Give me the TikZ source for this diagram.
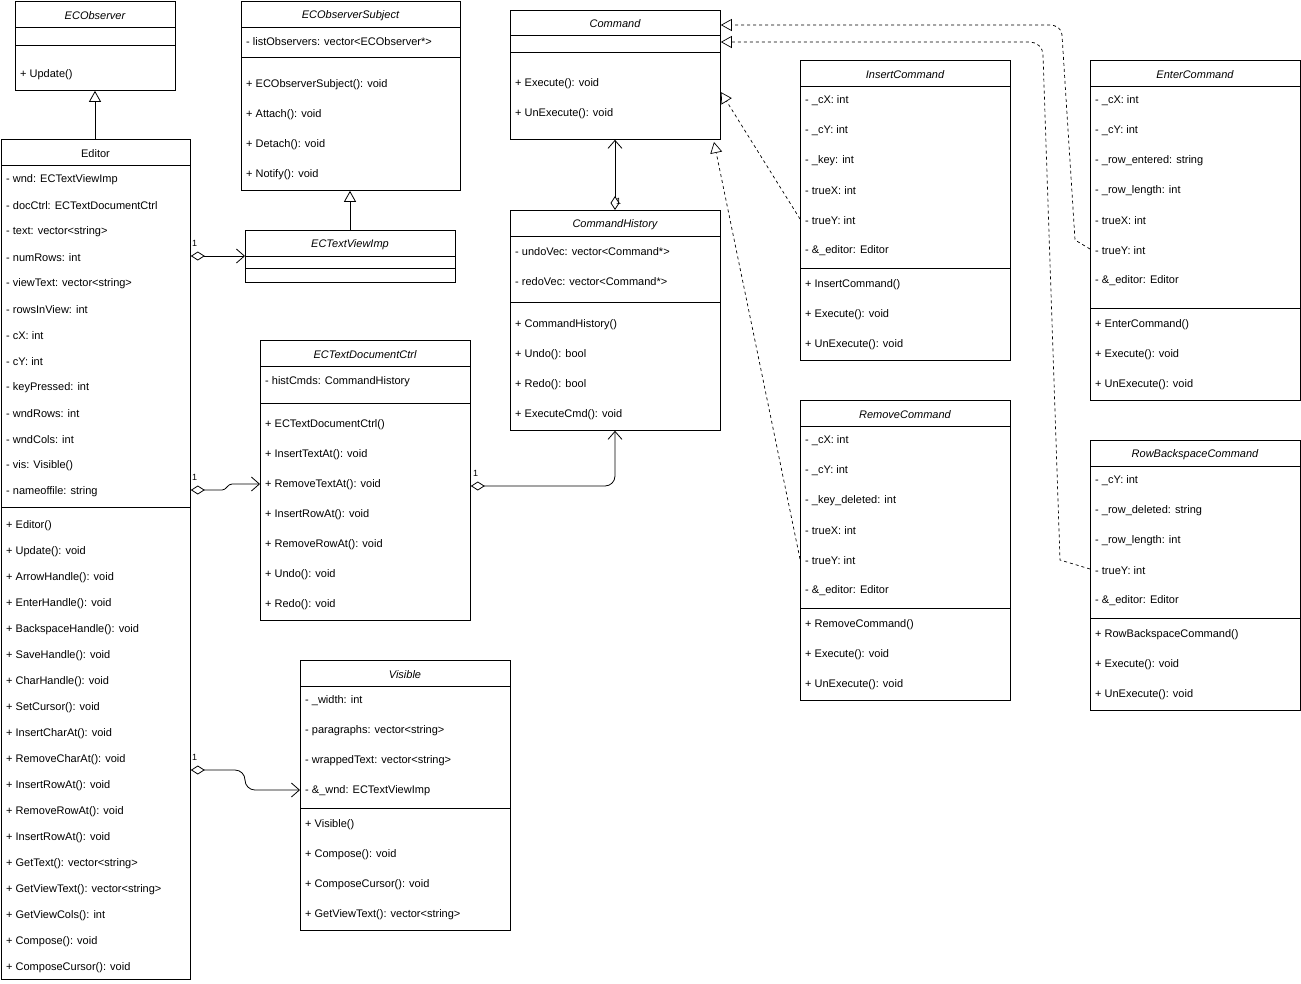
\documentclass[tikz,border=0pt]{standalone}
\usepackage{fontspec}
\setmainfont{Liberation Sans}
\usetikzlibrary{arrows.meta}
\tikzset{
 box/.style={draw,line width=0.8pt,fill=white,anchor=north west,inner sep=0pt},
 ttl/.style={anchor=center,font=\fontsize{11}{13}\selectfont},
 mem/.style={anchor=west,inner sep=0pt,font=\fontsize{11}{13}\selectfont},
 sep/.style={line width=0.8pt},
 inh/.style={line width=0.8pt,-{Triangle[open,length=11pt,width=12pt]}},
 real/.style={line width=0.7pt,dashed,dash pattern=on 3pt off 3pt,-{Triangle[open,length=11pt,width=12pt]}},
 agg/.style={line width=0.8pt,{Diamond[open,length=14pt,width=9pt]}-{Straight Barb[length=8pt,width=14pt]}},
 mult/.style={font=\fontsize{9}{10}\selectfont,inner sep=0pt}
}
% \cls{name}{x1}{y1}{x2}{y2}{title}{titlebottom}{font}
\newcommand\cls[8]{%
 \node[box,minimum width=#4-#2,minimum height=#5-#3] (#1) at (#2,-#3) {};
 \node[ttl,font=\fontsize{11}{13}\selectfont#8] (#1t) at ({(#2+#4)/2},{-(#3+#7)/2-1.5}) {#6};
 \draw[sep] (#2,-#7) -- (#4,-#7);}
\newcommand\hl[3]{\draw[sep] (#1,-#3) -- (#2,-#3);}
\newcommand\mm[3]{\node[mem] at (#1,-#2-2) {#3};}
\begin{document}
\begin{tikzpicture}[x=1pt,y=1pt]
\useasboundingbox (0,0) rectangle (1301,-983);
% ECObserver
\cls{obs}{15}{1}{175}{90}{ECObserver}{27}{\itshape}
\hl{15}{175}{45}
\mm{20}{73}{+ Update()}
% ECObserverSubject
\cls{subj}{241}{1}{460}{190}{ECObserverSubject}{27}{\itshape}
\mm{246}{40}{- listObservers: vector<ECObserver*>}
\hl{241}{460}{57}
\mm{246}{83}{+ ECObserverSubject(): void}
\mm{246}{113}{+ Attach(): void}
\mm{246}{143}{+ Detach(): void}
\mm{246}{173}{+ Notify(): void}
% Command
\cls{cmd}{510}{10}{720}{139}{Command}{35}{\itshape}
\hl{510}{720}{52}
\mm{515}{82}{+ Execute(): void}
\mm{515}{112}{+ UnExecute(): void}
% InsertCommand
\cls{ins}{800}{60}{1010}{360}{InsertCommand}{86}{\itshape}
\mm{805}{99}{- \_cX: int}
\mm{805}{129}{- \_cY: int}
\mm{805}{159}{- \_key: int}
\mm{805}{189}{- trueX: int}
\mm{805}{219}{- trueY: int}
\mm{805}{249}{- \&\_editor: Editor}
\hl{800}{1010}{268}
\mm{805}{283}{+ InsertCommand()}
\mm{805}{313}{+ Execute(): void}
\mm{805}{343}{+ UnExecute(): void}
% EnterCommand
\cls{ent}{1090}{60}{1300}{400}{EnterCommand}{86}{\itshape}
\mm{1095}{99}{- \_cX: int}
\mm{1095}{129}{- \_cY: int}
\mm{1095}{159}{- \_row\_entered: string}
\mm{1095}{189}{- \_row\_length: int}
\mm{1095}{219}{- trueX: int}
\mm{1095}{249}{- trueY: int}
\mm{1095}{279}{- \&\_editor: Editor}
\hl{1090}{1300}{308}
\mm{1095}{323}{+ EnterCommand()}
\mm{1095}{353}{+ Execute(): void}
\mm{1095}{383}{+ UnExecute(): void}
% Editor
\cls{ed}{1}{139}{190}{979}{Editor}{165}{}
\mm{6}{178}{- wnd: ECTextViewImp}
\mm{6}{204}{- docCtrl: ECTextDocumentCtrl}
\mm{6}{230}{- text: vector<string>}
\mm{6}{256}{- numRows: int}
\mm{6}{282}{- viewText: vector<string>}
\mm{6}{308}{- rowsInView: int}
\mm{6}{334}{- cX: int}
\mm{6}{360}{- cY: int}
\mm{6}{386}{- keyPressed: int}
\mm{6}{412}{- wndRows: int}
\mm{6}{438}{- wndCols: int}
\mm{6}{464}{- vis: Visible()}
\mm{6}{490}{- nameoffile: string}
\hl{1}{190}{507}
\mm{6}{524}{+ Editor()}
\mm{6}{550}{+ Update(): void}
\mm{6}{576}{+ ArrowHandle(): void}
\mm{6}{602}{+ EnterHandle(): void}
\mm{6}{628}{+ BackspaceHandle(): void}
\mm{6}{654}{+ SaveHandle(): void}
\mm{6}{680}{+ CharHandle(): void}
\mm{6}{706}{+ SetCursor(): void}
\mm{6}{732}{+ InsertCharAt(): void}
\mm{6}{758}{+ RemoveCharAt(): void}
\mm{6}{784}{+ InsertRowAt(): void}
\mm{6}{810}{+ RemoveRowAt(): void}
\mm{6}{836}{+ InsertRowAt(): void}
\mm{6}{862}{+ GetText(): vector<string>}
\mm{6}{888}{+ GetViewText(): vector<string>}
\mm{6}{914}{+ GetViewCols(): int}
\mm{6}{940}{+ Compose(): void}
\mm{6}{966}{+ ComposeCursor(): void}
% ECTextViewImp
\cls{view}{245}{230}{455}{282}{ECTextViewImp}{256}{\itshape}
\hl{245}{455}{268}
% CommandHistory
\cls{hist}{510}{210}{720}{430}{CommandHistory}{236}{\itshape}
\mm{515}{250}{- undoVec: vector<Command*>}
\mm{515}{280}{- redoVec: vector<Command*>}
\hl{510}{720}{302}
\mm{515}{323}{+ CommandHistory()}
\mm{515}{353}{+ Undo(): bool}
\mm{515}{383}{+ Redo(): bool}
\mm{515}{413}{+ ExecuteCmd(): void}
% ECTextDocumentCtrl
\cls{doc}{260}{340}{470}{620}{ECTextDocumentCtrl}{366}{\itshape}
\mm{265}{380}{- histCmds: CommandHistory}
\hl{260}{470}{403}
\mm{265}{423}{+ ECTextDocumentCtrl()}
\mm{265}{453}{+ InsertTextAt(): void}
\mm{265}{483}{+ RemoveTextAt(): void}
\mm{265}{513}{+ InsertRowAt(): void}
\mm{265}{543}{+ RemoveRowAt(): void}
\mm{265}{573}{+ Undo(): void}
\mm{265}{603}{+ Redo(): void}
% RemoveCommand
\cls{rem}{800}{400}{1010}{700}{RemoveCommand}{426}{\itshape}
\mm{805}{439}{- \_cX: int}
\mm{805}{469}{- \_cY: int}
\mm{805}{499}{- \_key\_deleted: int}
\mm{805}{529}{- trueX: int}
\mm{805}{559}{- trueY: int}
\mm{805}{589}{- \&\_editor: Editor}
\hl{800}{1010}{608}
\mm{805}{623}{+ RemoveCommand()}
\mm{805}{653}{+ Execute(): void}
\mm{805}{683}{+ UnExecute(): void}
% RowBackspaceCommand
\cls{rbk}{1090}{440}{1300}{710}{RowBackspaceCommand}{466}{\itshape}
\mm{1095}{479}{- \_cY: int}
\mm{1095}{509}{- \_row\_deleted: string}
\mm{1095}{539}{- \_row\_length: int}
\mm{1095}{569}{- trueY: int}
\mm{1095}{599}{- \&\_editor: Editor}
\hl{1090}{1300}{618}
\mm{1095}{633}{+ RowBackspaceCommand()}
\mm{1095}{663}{+ Execute(): void}
\mm{1095}{693}{+ UnExecute(): void}
% Visible
\cls{vis}{300}{660}{510}{930}{Visible}{686}{\itshape}
\mm{305}{699}{- \_width: int}
\mm{305}{729}{- paragraphs: vector<string>}
\mm{305}{759}{- wrappedText: vector<string>}
\mm{305}{789}{- \&\_wnd: ECTextViewImp}
\hl{300}{510}{808}
\mm{305}{823}{+ Visible()}
\mm{305}{853}{+ Compose(): void}
\mm{305}{883}{+ ComposeCursor(): void}
\mm{305}{913}{+ GetViewText(): vector<string>}
% inheritance
\draw[inh] (ed.north -| 95,0) -- (obs.south -| 95,0);
\draw[inh] (view.north -| 350,0) -- (subj.south -| 350,0);
% aggregations
\draw[agg] (ed.east |- 0,-256) -- (view.west |- 0,-256);
\node[mult,anchor=south west] at (192,-247) {1};
\draw[agg] (ed.east |- 0,-490) -- (222,-490) to[out=0,in=180] (232,-484) -- (doc.west |- 0,-484);
\node[mult,anchor=south west] at (192,-481) {1};
\draw[agg] (doc.east |- 0,-486) -- (605,-486) to[out=0,in=-90] (615,-476) -- (hist.south -| 615,0);
\node[mult,anchor=south west] at (473,-477) {1};
\draw[agg] (hist.north -| 615,0) -- (cmd.south -| 615,0);
\node[mult,anchor=south west] at (616,-205) {1};
\draw[agg] (ed.east |- 0,-770) -- (235,-770) to[out=0,in=90] (245,-780) to[out=-90,in=180] (255,-790) -- (vis.west |- 0,-790);
\node[mult,anchor=south west] at (192,-761) {1};
% realizations
\draw[real] (ins.west |- 0,-219) -- (cmd.east |- 0,-92);
\draw[real] (rem.west |- 0,-559) -- (714,-142);
\draw[real] (ent.west |- 0,-249) -- (1075,-240) -- (1062,-35) to[out=90,in=0] (1050,-25) -- (cmd.east |- 0,-25);
\draw[real] (rbk.west |- 0,-569) -- (1060,-560) -- (1043,-55) to[out=90,in=0] (1030,-42) -- (cmd.east |- 0,-42);
\end{tikzpicture}
\end{document}
